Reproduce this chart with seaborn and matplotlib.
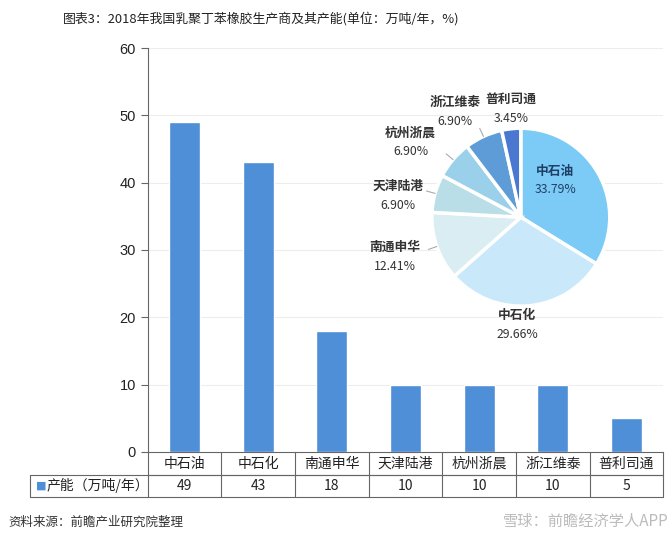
import numpy as np
import matplotlib
matplotlib.use("Agg")
import matplotlib.pyplot as plt
import seaborn as sns

# data
companies = ['中石油', '中石化', '南通申华', '天津陆港', '杭州浙晨', '浙江维泰', '普利司通']
capacity = [49, 43, 18, 10, 10, 10, 5]
y_ticks = [0, 10, 20, 30, 40, 50, 60]
series_name = '产能（万吨/年）'
title = '图表3：2018年我国乳聚丁苯橡胶生产商及其产能(单位：万吨/年，%)'
source = '资料来源：前瞻产业研究院整理'

bar_color = '#4F8FD8'
pie_colors = ['#7CCBF6', '#C9E9FB', '#D9EDF3', '#B9DEE8', '#9BD0EA', '#5D9CD6', '#4A78D0']

sns.set_style("white")
plt.rcParams['font.family'] = ['Noto Sans CJK SC', 'DejaVu Sans']

fig = plt.figure(figsize=(6.72, 5.43), dpi=100)
ax = fig.add_axes([0.220, 0.1676, 0.767, 0.744])

sns.barplot(x=companies, y=capacity, color=bar_color, width=0.42,
            saturation=1, ax=ax)
ax.set_ylim(0, 60)
ax.set_xlim(-0.5, len(companies) - 0.5)
ax.set_yticks(y_ticks)
ax.set_yticklabels([str(t) for t in y_ticks], family='Liberation Sans', fontsize=10.5, color='#222222')
ax.set_xticks([])
ax.set_xlabel('')
ax.set_ylabel('')
ax.tick_params(axis='y', direction='out', length=5, color='#666666', left=True)
for y in y_ticks[1:]:
    ax.axhline(y, color='#EDEDED', lw=0.8, zorder=0)
sns.despine(ax=ax, top=True, right=True)
ax.spines['left'].set_color('#666666')
ax.spines['bottom'].set_color('#666666')

# data table under the axis
trans = ax.get_xaxis_transform()
h1, h2 = 0.057, 0.111
left_edge = -0.229
lc = '#666666'
n = len(companies)
ax.plot([-0.5, n - 0.5], [-h1, -h1], transform=trans, color=lc, lw=0.8, clip_on=False)
ax.plot([left_edge, 1], [-h1, -h1], transform=ax.transAxes, color=lc, lw=0.8, clip_on=False)
ax.plot([left_edge, 1], [-h2, -h2], transform=ax.transAxes, color=lc, lw=0.8, clip_on=False)
ax.plot([left_edge, left_edge], [-h1, -h2], transform=ax.transAxes, color=lc, lw=0.8, clip_on=False)
for k in range(n + 1):
    ax.plot([k - 0.5, k - 0.5], [0, -h2], transform=trans, color=lc, lw=0.8, clip_on=False)
for i, (c, v) in enumerate(zip(companies, capacity)):
    ax.text(i, -h1 / 2, c, transform=trans, ha='center', va='center', fontsize=10, color='#222222')
    ax.text(i, -(h1 + h2) / 2, str(v), transform=trans, ha='center', va='center', fontsize=10, color='#222222')
ax.text(left_edge + 0.012, -(h1 + h2) / 2, '■', transform=ax.transAxes, ha='left', va='center',
        fontsize=8, color=bar_color, family='DejaVu Sans')
ax.text(left_edge + 0.032, -(h1 + h2) / 2, series_name, transform=ax.transAxes, ha='left',
        va='center', fontsize=10, color='#222222')

# inset pie
pax = fig.add_axes([0.636, 0.428, 0.278, 0.344])
total = sum(capacity)
wedges, _ = pax.pie(capacity, colors=pie_colors, startangle=90, counterclock=False,
                    wedgeprops=dict(edgecolor='white', linewidth=2.5))
pax.set_aspect('equal')
pax.set_xlim(-1.05, 1.05)
pax.set_ylim(-1.05, 1.05)
pax.axis('off')

label_r = [0.57, 1.21, 1.48, 1.40, 1.50, 1.40, 1.23]
label_shift = [18, -7, -2, 5.5, 6, 7, -1]
leader = [False, False, True, True, True, True, False]
for w, name, v, r, da, ld in zip(wedges, companies, capacity, label_r, label_shift, leader):
    mid = np.deg2rad((w.theta1 + w.theta2) / 2)
    ang = mid + np.deg2rad(da)
    x, y = r * np.cos(ang), r * np.sin(ang)
    col = '#1F3F66' if name == '中石油' else '#333333'
    pax.text(x, y + 0.1, name, ha='center', va='center', fontsize=9.2,
             fontweight='bold', color=col, clip_on=False)
    pax.text(x, y - 0.11, f'{v / total * 100:.2f}%', ha='center', va='center',
             fontsize=8.8, color=col, clip_on=False)
    if ld:
        x0, y0 = 1.0 * np.cos(mid), 1.0 * np.sin(mid)
        x1, y1 = 1.1 * np.cos(mid), 1.1 * np.sin(mid)
        pax.plot([x0, x1], [y0, y1], color='#AAAAAA', lw=0.8, clip_on=False)

fig.text(0.388, 0.965, title, ha='center', va='center', fontsize=9.3, color='#222222')
fig.text(0.012, 0.039, source, ha='left', va='center', fontsize=9, color='#333333', style='italic')
fig.text(0.995, 0.039, '雪球：前瞻经济学人APP', ha='right', va='center', fontsize=11, color='#BBBBBB')

fig.savefig('out.png', dpi=100)
